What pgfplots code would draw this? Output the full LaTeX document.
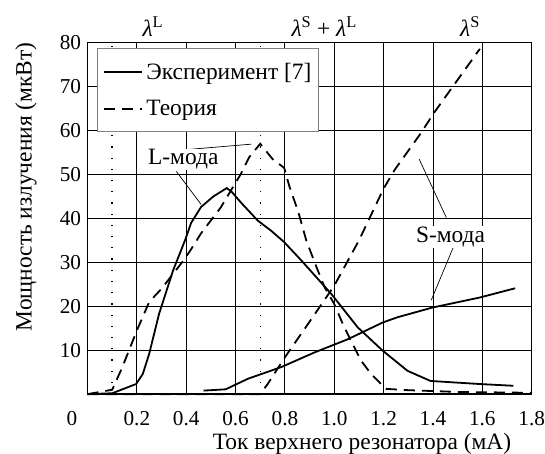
\documentclass[border=0pt]{standalone}
\usepackage{fontspec}
\setmainfont{Liberation Serif}
\usepackage{pgfplots}
\pgfplotsset{compat=1.18}

\begin{document}
\begin{tikzpicture}
\begin{axis}[
    name=ax,
    scale only axis,
    width=444bp, height=351.3bp,
    xmin=0, xmax=1.8, ymin=0, ymax=80,
    clip=false,
    xtick={0.2,0.4,0.6,0.8,1.0,1.2,1.4,1.6,1.8},
    ytick={10,20,30,40,50,60,70,80},
    extra x ticks={0}, extra x tick labels={0},
    extra x tick style={grid=none, xticklabel style={xshift=-15.5bp}},
    grid=major,
    major grid style={black, line width=0.9bp},
    major tick length=0pt,
    axis line style={line width=1.3bp},
    font=\fontsize{23.5}{27}\selectfont,
    tick label style={font=\fontsize{21.3}{25}\selectfont},
    /pgf/number format/assume math mode=true,
    xticklabel style={/pgf/number format/.cd, fixed, fixed zerofill, precision=1, /tikz/.cd,
        inner sep=1bp, yshift=-16.5bp},
    yticklabel style={xshift=-3bp},
    xlabel={Ток верхнего резонатора (мА)},
    ylabel={Мощность излучения (мкВт)},
    xlabel style={at={(axis description cs:0.618,-0.141)}, anchor=center, inner sep=0pt},
    ylabel style={at={(axis description cs:-0.1385,0.59)}, anchor=center},
    legend style={at={(axis cs:0.04,78.7)}, anchor=north west, draw=gray, line width=1bp,
        fill=white, inner xsep=5bp, inner ysep=12bp, row sep=16bp, column sep=2bp,
        cells={anchor=west}, font=\fontsize{23.5}{27}\selectfont},
    legend image code/.code={\draw[#1] (0bp,0bp) -- (37.7bp,0bp);},
]
% L-mode, experiment
\addplot[black, line width=1.8bp] coordinates {
    (0,0) (0.1,0.2) (0.197,2.3) (0.224,4.6) (0.25,9.2) (0.29,18.3) (0.347,28.2)
    (0.395,35) (0.42,39) (0.46,42.6) (0.51,45) (0.564,46.9) (0.582,46.2) (0.622,43.6)
    (0.69,39.5) (0.744,37.2) (0.797,34.6) (0.867,30.4) (0.988,22.8) (1.095,15.2)
    (1.196,9.9) (1.297,5.3) (1.39,3) (1.59,2.3) (1.726,1.9)
};
\addlegendentry{Эксперимент [7]}
% L-mode, theory
\addplot[black, line width=1.8bp, dash pattern=on 11bp off 7bp] coordinates {
    (0,0) (0.1,1) (0.14,6) (0.2,14.5) (0.25,21) (0.3,24) (0.39,30.5) (0.42,33)
    (0.46,36.6) (0.54,42.5) (0.62,50) (0.656,54) (0.70,57) (0.75,53.5) (0.797,51.5)
    (0.818,47.3) (0.854,41.5) (0.887,34.9) (0.928,28.9) (0.961,24.3) (1.0,20.5)
    (1.035,15.9) (1.068,12.1) (1.109,7.6) (1.149,4.6) (1.19,2.3) (1.21,1.2)
    (1.3,0.9) (1.5,0.5) (1.8,0.3)
};
\addlegendentry{Теория}
% S-mode, experiment
\addplot[black, line width=1.8bp, forget plot] coordinates {
    (0.47,0.8) (0.56,1.1) (0.65,3.5) (0.787,6.2) (0.92,9.5) (1.055,12.5)
    (1.196,16.3) (1.256,17.5) (1.397,19.7) (1.59,22) (1.733,24.1)
};
% S-mode, theory
\addplot[black, line width=1.8bp, dash pattern=on 11bp off 7bp, forget plot] coordinates {
    (0,0) (0.70,0) (0.73,2.3) (0.80,8.4) (0.90,16.5) (1.0,24.7) (1.1,35) (1.2,46.8)
    (1.244,51) (1.352,59.5) (1.4,63.7) (1.48,70) (1.59,78.6)
};
% dotted lines
\addplot[black, line width=1.5bp, dash pattern=on 1.2bp off 10bp, forget plot] coordinates {(0.1,0) (0.1,80)};
\addplot[black, line width=1.5bp, dash pattern=on 1.2bp off 10bp, forget plot] coordinates {(0.7,0) (0.7,80)};
\addplot[black, line width=1.5bp, dash pattern=on 1.2bp off 10bp, forget plot] coordinates {(1.2,0) (1.2,80)};

% annotations
\draw[line width=0.7bp] (axis cs:0.366,55.5) -- (axis cs:0.663,56.9);
\draw[line width=0.7bp] (axis cs:0.36,50.7) -- (axis cs:0.46,43.2);
\node[fill=white, inner sep=1bp] at (axis cs:0.388,53.4) {L-мода};
\draw[line width=0.7bp] (axis cs:1.344,53.5) -- (axis cs:1.454,40.2);
\draw[line width=0.7bp] (axis cs:1.482,33.4) -- (axis cs:1.393,21.4);
\node[fill=white, inner sep=1bp] at (axis cs:1.471,35.7) {S-мода};

\node at (axis cs:0.265,83.6) {\textit{λ}\textsuperscript{L}};
\node at (axis cs:0.959,83.6) {\textit{λ}\textsuperscript{S} + \textit{λ}\textsuperscript{L}};
\node at (axis cs:1.55,83.6) {\textit{λ}\textsuperscript{S}};
\end{axis}
\path (ax.south west) ++(-87.5bp,-59bp) coordinate (bl);
\path (ax.north east) ++(13.3bp,42.7bp) coordinate (tr);
\pgfresetboundingbox
\path[use as bounding box] (bl) rectangle (tr);
\end{tikzpicture}
\end{document}
